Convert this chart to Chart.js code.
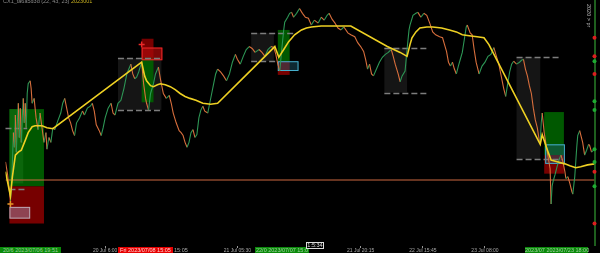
<!DOCTYPE html>
<html><head><meta charset="utf-8">
<script src="https://cdn.jsdelivr.net/npm/chart.js@4"></script>
<style>
html,body{margin:0;padding:0;background:#000;overflow:hidden}
#wrap{position:relative;width:600px;height:253px;background:#000}
canvas{position:absolute;left:0;top:0}
.lbl{position:absolute;font-family:"Liberation Sans",Arial,sans-serif;font-size:5.5px;line-height:6px;white-space:nowrap}
</style></head>
<body>
<div id="wrap">
<canvas id="c" width="600" height="253"></canvas>
<div class="lbl" style="left:3px;top:-2px;color:#8a8a8a">CX1_ta6a5d3d (22, 43, 23) <span style="color:#c8b020">2023001</span></div>
<div class="lbl" style="left:586px;top:4px;color:#bbb;writing-mode:vertical-rl">2020 &gt; pr</div>
<div class="lbl" style="left:0;top:247px;width:61px;height:6px;background:#0a8a0a;color:#9fd09f;text-align:center">20/6 2023/07/06 19:51</div>
<div class="lbl" style="left:118px;top:247px;width:55px;height:6px;background:#e60000;color:#ffd0d0;text-align:center">Fri 2023/07/08 15:05</div>
<div class="lbl" style="left:174px;top:247px;color:#a8a8a8">15:05</div>
<div class="lbl" style="left:255px;top:247px;width:54px;height:6px;background:#0a8a0a;color:#9fd09f;text-align:center">22/0 2023/07/07 15:0</div>
<div class="lbl" style="left:306px;top:242px;width:16px;height:5px;border:1px solid #ddd;background:#000;color:#ddd;text-align:center;line-height:5px">1:5:34</div>
<div class="lbl" style="left:525px;top:247px;width:63px;height:6px;background:#0a8a0a;color:#9fd09f;text-align:center">2023/07 2023/07/23 18:00</div>
</div>
<script>
// ---- data ----
const bars = [0,2,4,5,6,7,8,9,10,11,12,13,14,15,16,17,18,19,20,21,22,23,25,26,27,29,31,33,35,37,39,41,42,44,46,48,50,53,56,58,60,62,64,66,68,70,72,75,78,80,83,86,88,90,92,95,97,99,101,104,107,109,111,114,117,120,123,125,127,129,131,133,135,138,140,142,143,145,147,150,152,155,157,160,163,166,168,170,173,176,178,180,182,184,186,188,190,192,194,196,198,200,202,205,207,209,211,213,215,218,221,224,227,230,233,235,238,241,244,247,250,253,257,260,263,266,269,272,274,276,278,280,282,283,286,288,290,292,295,298,301,304,307,310,313,317,320,323,326,328,331,334,337,340,343,347,350,354,357,360,363,365,367,369,371,373,376,379,382,385,388,391,393,395,398,400,402,405,407,409,410,413,416,418,421,424,427,430,433,436,440,443,445,447,449,451,453,455,457,459,461,463,465,467,468,471,473,475,477,480,483,486,489,492,495,497,500,502,505,507,509,511,513,515,518,521,523,525,527,529,531,533,535,537,539,541,542,543,544,546,548,550,552,553,554,555,557,559,561,563,565,567,568,570,572,574,575,577,579,580,582,583,585,587,589,591,592,594,596];
const prices = [86,74,56,46,61,86,116,101,134,96,126,146,111,141,106,131,151,126,146,121,156,166,169,161,146,151,131,119,136,121,106,116,99,111,106,121,119,128,136,146,151,141,131,126,118,113,126,131,138,134,141,143,146,138,124,118,113,121,131,141,146,136,134,146,149,161,176,181,186,176,171,173,178,188,166,151,146,139,156,166,176,183,171,156,151,154,146,136,126,118,116,113,106,101,106,116,119,111,114,131,139,143,138,136,146,156,166,176,181,178,174,169,176,188,196,191,186,194,201,204,202,198,201,198,194,201,204,203,196,186,179,201,221,229,234,238,239,234,238,243,238,234,233,226,231,228,234,231,236,238,232,228,223,221,224,218,216,214,208,204,199,191,181,186,176,174,181,188,193,196,198,201,194,186,176,168,174,179,201,221,226,236,238,239,234,238,236,228,219,216,214,213,206,199,188,184,188,181,176,184,191,198,211,224,226,218,216,201,188,176,184,188,194,196,203,196,186,176,161,153,166,178,186,189,186,188,190,191,181,174,164,156,141,129,121,108,106,126,136,116,103,91,79,43,61,66,73,81,88,93,86,76,69,71,64,56,53,71,101,113,118,114,106,93,98,104,103,96,98];
const maBars = [0,3,5,7,10,13,16,20,23,27,30,37,42,48,138,141,143,147,150,154,157,162,167,172,177,182,187,193,200,208,215,273,277,282,287,293,300,305,310,320,350,387,400,407,410,412,416,420,427,433,442,450,457,463,470,478,485,490,542,544,546,550,553,560,567,572,578,583,590,597];
const maValues = [76,61,51,71,93,96,98,108,116,122,123,123,121,120,188,174,169,164,163,165,166,165,163,160,156,153,151,149,146,145,146,204,193,201,209,216,221,223,224,225,225,204,198,194,206,213,219,223,224,224,223,221,219,216,215,214,213,206,104,114,108,96,88,86,84,82,80,81,83,84];
const levelPrice = 67.5;
const tickBars = [101, 235, 360, 423, 486];
const tickLabels = ['20 Jul 6:00', '21 Jul 05:30', '21 Jul 20:15', '22 Jul 15:45', '23 Jul 08:00'];
// zones: kind, start bar, end bar, high, low
const zoneKinds = ['green','greenHi','red','ghost','dark','green','red','redOut','dark','green','red','cyan','dark','dark','green','red','cyan'];
const zoneStart = [4,4,4,4,114,138,138,138,249,276,276,276,384,518,546,546,547];
const zoneEnd   = [39,18,39,25,158,150,150,159,272,288,288,297,407,542,566,566,567];
const zoneHigh  = [140,140,61,40,192,193,212,203,218,221,189,189,203,193,137,93,104];
const zoneLow   = [61,64,23,28,139,147,193,190,189,189,175,179,157,89,93,74,84];
// dashed levels
const dashStart = [0,4,114,114,249,249,384,384,518,518];
const dashEnd   = [22,22,158,158,292,275,427,427,562,565];
const dashPrice = [121,58,192,139,218,189,203,157,193,89];
// right-edge markers
const markBuyPrices = [189,148,139,99,86,61];
const markSellPrices = [213,194,176,76,23];
const crossBars = [5,138];
const crossPrices = [43,206];

const styles = {
  dark:{fill:'rgba(21,21,21,1)'},
  green:{fill:'rgba(0,95,0,0.92)'},
  greenHi:{fill:'rgba(20,115,20,0.55)'},
  red:{fill:'rgba(125,0,0,0.95)'},
  ghost:{fill:'rgba(150,90,110,0.75)',stroke:'rgba(200,190,200,0.8)'},
  redOut:{fill:'rgba(165,10,10,0.75)',stroke:'rgba(235,40,40,1)'},
  cyan:{fill:'rgba(30,90,110,0.45)',stroke:'rgba(70,175,205,1)'}
};

const zonePlugin = {
  id:'zones',
  beforeDatasetsDraw(chart){
    const {ctx, scales:{x,y}} = chart;
    ctx.save();
    for(let i=0;i<zoneKinds.length;i++){
      const st = styles[zoneKinds[i]];
      const x1=x.getPixelForValue(zoneStart[i]), x2=x.getPixelForValue(zoneEnd[i]);
      const y1=y.getPixelForValue(zoneHigh[i]), y2=y.getPixelForValue(zoneLow[i]);
      ctx.fillStyle=st.fill; ctx.fillRect(x1,y1,x2-x1,y2-y1);
      if(st.stroke){ctx.strokeStyle=st.stroke;ctx.lineWidth=1;ctx.strokeRect(x1+0.5,y1+0.5,x2-x1-1,y2-y1-1);}
    }
    ctx.strokeStyle='rgba(125,125,125,1)'; ctx.lineWidth=1.5; ctx.setLineDash([6,3]);
    for(let i=0;i<dashPrice.length;i++){
      const yy=Math.round(y.getPixelForValue(dashPrice[i]))+0.5;
      ctx.beginPath(); ctx.moveTo(x.getPixelForValue(dashStart[i]),yy); ctx.lineTo(x.getPixelForValue(dashEnd[i]),yy); ctx.stroke();
    }
    ctx.setLineDash([]);
    const rx = chart.chartArea.right + 0.5;
    ctx.strokeStyle='rgba(60,190,60,1)'; ctx.lineWidth=1;
    ctx.beginPath(); ctx.moveTo(rx,0); ctx.lineTo(rx,chart.chartArea.bottom); ctx.stroke();
    ctx.restore();
  }
};

const pricePts = bars.map((b,i)=>({x:b,y:prices[i]}));
const maPts = maBars.map((b,i)=>({x:b,y:maValues[i]}));
const UP='rgb(45,150,85)', DOWN='rgb(215,110,60)';

new Chart(document.getElementById('c'),{
  type:'line',
  data:{datasets:[
    {type:'scatter',data:crossBars.map((b,i)=>({x:b,y:crossPrices[i]})),pointStyle:'cross',pointRadius:3,borderWidth:1.5,
      borderColor:['rgb(230,150,40)','rgb(235,40,40)'],clip:false},
    {type:'scatter',data:markSellPrices.map(p=>({x:597,y:p})),pointRadius:2,backgroundColor:'rgb(220,30,30)',borderWidth:0,clip:false},
    {type:'scatter',data:markBuyPrices.map(p=>({x:597,y:p})),pointRadius:2,backgroundColor:'rgb(30,170,50)',borderWidth:0,clip:false},
    {data:maPts,borderColor:'rgb(238,208,35)',borderWidth:1.6,pointRadius:0,tension:0},
    {data:pricePts,borderWidth:1.1,pointRadius:0,tension:0,
      segment:{borderColor:c=>c.p1.parsed.y>=c.p0.parsed.y?UP:DOWN}},
    {data:[{x:0,y:levelPrice},{x:597,y:levelPrice}],borderColor:'rgb(205,105,65)',borderWidth:1,pointRadius:0}
  ]},
  options:{
    responsive:false,animation:false,devicePixelRatio:1,
    layout:{padding:{left:0,right:3,top:0,bottom:0}},
    plugins:{legend:{display:false},tooltip:{enabled:false}},
    scales:{
      x:{type:'linear',min:0,max:597,
        afterBuildTicks:s=>{s.ticks=tickBars.map(v=>({value:v}));},
        afterFit:s=>{s.height=7;},
        ticks:{autoSkip:false,maxRotation:0,padding:0,color:'#a8a8a8',font:{size:5,family:'Liberation Sans'},
          callback:(v,i)=>tickLabels[i]},
        grid:{drawOnChartArea:false,drawTicks:true,tickLength:2,color:'#999'},
        border:{display:false}},
      y:{display:false,min:0,max:246}
    }
  },
  plugins:[zonePlugin]
});
</script>
</body></html>
